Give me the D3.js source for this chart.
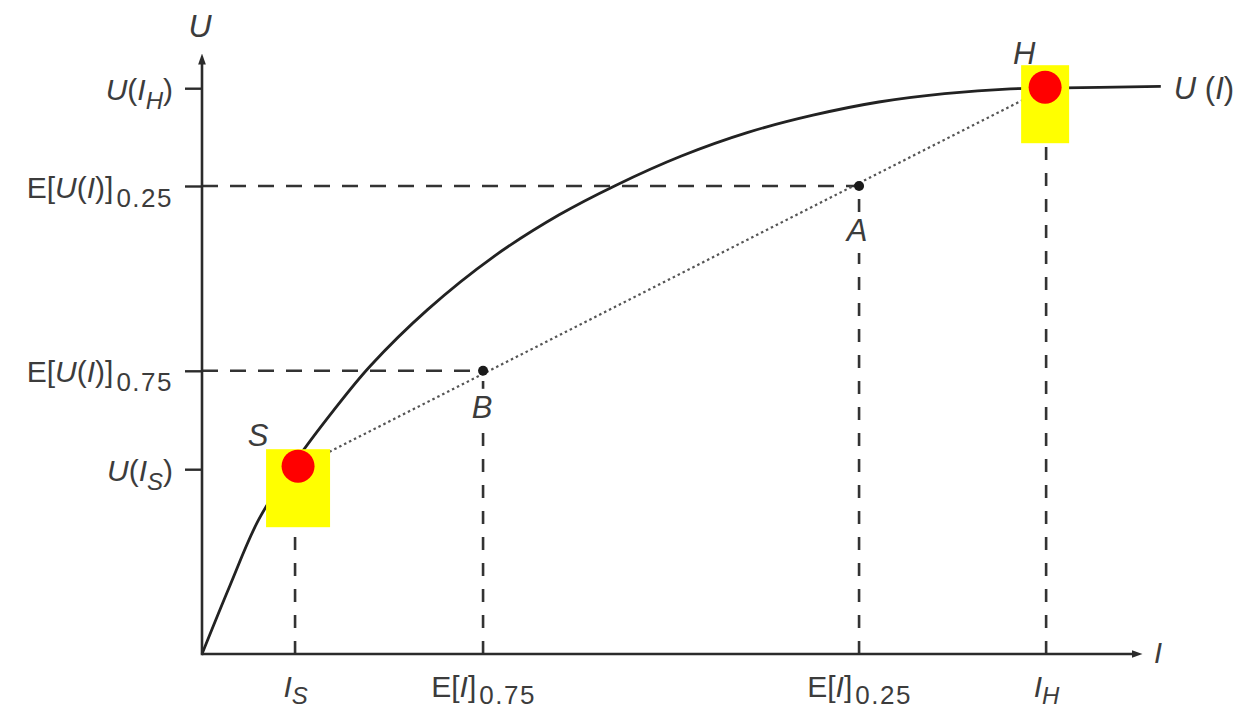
<!DOCTYPE html>
<html><head><meta charset="utf-8">
<script src="https://cdn.jsdelivr.net/npm/d3@7"></script>
<style>
html,body{margin:0;padding:0;background:#fff;}
svg text{font-family:"Liberation Sans",Arial,Helvetica,sans-serif;fill:#3c3c3c;}
</style>
</head><body>
<svg id="chart" width="1233" height="709"></svg>
<script>
// ---- data ----
const curveIncome  = [0, 3, 6, 9.9, 14, 17.9, 24, 31, 38, 44, 51, 58, 65, 72, 79, 86, 89.8, 102];
const curveUtility = [0, 11.5, 22.3, 32.0, 40.6, 48.0, 57.4, 66.2, 73.2, 78.1, 83.0, 86.9, 89.8, 92.0, 93.4, 94.2, 94.3, 94.6];

const pointNames   = ["S", "B", "A", "H"];
const pointIncome  = [9.9, 29.9, 69.9, 89.8];
const pointUtility = [30.8, 47.2, 78.0, 94.3];

const xTickValues = [9.9, 29.9, 69.9, 89.8];
const xTickLabels = [
  [["I","i"],["S","is"]],
  [["E[",""],["I","i"],["]",""],["0.75","sw"]],
  [["E[",""],["I","i"],["]",""],["0.25","sw"]],
  [["I","i"],["H","is"]]
];
const yTickValues = [94.3, 78.0, 47.2, 30.8];
const yTickLabels = [
  [["U","i"],["(",""],["I","i"],["H","is"],[")",""]],
  [["E[",""],["U","i"],["(",""],["I","i"],[")]",""],["0.25","sw"]],
  [["E[",""],["U","i"],["(",""],["I","i"],[")]",""],["0.75","sw"]],
  [["U","i"],["(",""],["I","i"],["S","is"],[")",""]]
];
const curveLabel = [["U","i"],[" (",""],["I","i"],[")",""]];
const xAxisLabel = "I";
const yAxisLabel = "U";

// ---- drawing ----
const svg = d3.select("#chart");
const x = d3.scaleLinear().domain([0, 100]).range([202, 1142]);
const y = d3.scaleLinear().domain([0, 100]).range([654, 54]);
const ink = "#2b2b2b";

function rich(sel, segs, subSize, shift) {
  let shifted = false;
  segs.forEach(([t, f]) => {
    const ts = sel.append("tspan").text(t);
    if (f.includes("i")) ts.attr("font-style", "italic");
    const sub = f.includes("s");
    if (sub) ts.attr("font-size", subSize);
    if (f.includes("w")) ts.attr("font-size", subSize + 2).attr("letter-spacing", 1.5).attr("dx", 3);
    if (sub && !shifted) { ts.attr("dy", shift); shifted = true; }
    else if (!sub && shifted) { ts.attr("dy", -shift); shifted = false; }
  });
}

const defs = svg.append("defs");
defs.append("marker").attr("id", "arrow")
  .attr("viewBox", "0 0 10 10").attr("refX", 5).attr("refY", 5)
  .attr("markerUnits", "userSpaceOnUse").attr("markerWidth", 11).attr("markerHeight", 11)
  .attr("orient", "auto")
  .append("path").attr("d", "M0,1.5L10,5L0,8.5z").attr("fill", ink);

// dashed guide lines
const pts = pointNames.map((n, i) => ({name: n, I: pointIncome[i], U: pointUtility[i]}));
const guides = svg.append("g").attr("stroke", "#333").attr("stroke-width", 2.6).attr("fill", "none");
pts.filter(p => p.name === "A" || p.name === "B").forEach(p => {
  guides.append("line").attr("x1", x(0)).attr("x2", x(p.I)).attr("y1", y(p.U)).attr("y2", y(p.U))
    .attr("stroke-dasharray", "16,12");
});
pts.forEach(p => {
  guides.append("line").attr("x1", x(p.I)).attr("x2", x(p.I)).attr("y1", y(0)).attr("y2", y(p.U))
    .attr("stroke-dasharray", "13,13");
});

// dotted chord S-H
const S = pts[0], H = pts[3];
svg.append("line").attr("x1", x(S.I)).attr("y1", y(S.U)).attr("x2", x(H.I)).attr("y2", y(H.U))
  .attr("stroke", "#555").attr("stroke-width", 2.2).attr("stroke-dasharray", "2.5,3");

// utility curve
const line = d3.line().x(d => x(d[0])).y(d => y(d[1])).curve(d3.curveCatmullRom.alpha(0.5));
svg.append("path").datum(d3.zip(curveIncome, curveUtility))
  .attr("d", line).attr("fill", "none").attr("stroke", "#222").attr("stroke-width", 2.8);

// axes
const yAxis = d3.axisLeft(y).tickValues(yTickValues).tickSize(17).tickSizeOuter(0).tickPadding(12).tickFormat(() => "");
const gy = svg.append("g").attr("transform", `translate(${x(0)},0)`).call(yAxis);
gy.select(".domain").remove();
gy.selectAll(".tick line").attr("stroke", ink).attr("stroke-width", 2.4);
gy.selectAll(".tick text").attr("dy", 11).attr("font-size", 30).attr("fill", "#3c3c3c")
  .each(function(d, i) { rich(d3.select(this), yTickLabels[i], 24, 9); });

const xAxis = d3.axisBottom(x).tickValues(xTickValues).tickSize(0).tickSizeOuter(0).tickPadding(0).tickFormat(() => "");
const gx = svg.append("g").attr("transform", `translate(0,${y(0)})`).call(xAxis);
gx.select(".domain").remove();
gx.selectAll(".tick text").attr("y", 43).attr("dy", 0).attr("font-size", 30).attr("fill", "#3c3c3c")
  .each(function(d, i) { rich(d3.select(this), xTickLabels[i], 24, 7); });

svg.append("line").attr("x1", x(0)).attr("y1", y(0)).attr("x2", x(100) - 5).attr("y2", y(0))
  .attr("stroke", ink).attr("stroke-width", 2.6).attr("marker-end", "url(#arrow)");
svg.append("line").attr("x1", x(0)).attr("y1", y(0) + 1.3).attr("x2", x(0)).attr("y2", y(100) + 5)
  .attr("stroke", ink).attr("stroke-width", 2.6).attr("marker-end", "url(#arrow)");

svg.append("text").attr("x", x(0) - 2).attr("y", 37).attr("text-anchor", "middle")
  .attr("font-size", 32).attr("font-style", "italic").text(yAxisLabel);
svg.append("text").attr("x", x(100) + 16).attr("y", y(0) + 9).attr("text-anchor", "middle")
  .attr("font-size", 29).attr("font-style", "italic").text(xAxisLabel);

// curve label
const lastI = curveIncome[curveIncome.length - 1], lastU = curveUtility[curveUtility.length - 1];
const cl = svg.append("text").attr("x", x(lastI) + 13).attr("y", y(lastU) + 13).attr("font-size", 31);
rich(cl, curveLabel, 24, 0);

// A, B points and labels
const labelOffsets = {S: [-37, -23], B: [-1, 47], A: [-2, 55], H: [-22, -24]};
pts.forEach(p => {
  const [dx, dy] = labelOffsets[p.name];
  const t = svg.append("text").attr("x", x(p.I) + dx).attr("y", y(p.U) + dy)
    .attr("text-anchor", "middle").attr("font-size", 31).attr("font-style", "italic").text(p.name);
  if (p.name === "A" || p.name === "B") {
    const bb = t.node().getBBox();
    svg.insert("rect", function() { return t.node(); })
      .attr("x", bb.x - 4).attr("y", bb.y - 1).attr("width", bb.width + 8).attr("height", bb.height + 6)
      .attr("fill", "#fff");
    svg.append("circle").attr("cx", x(p.I)).attr("cy", y(p.U)).attr("r", 5).attr("fill", "#1a1a1a");
  }
});

// highlight markers on S and H
const highlight = {S: {box: [-29, -20, 64, 78], dot: [3, -3]}, H: {box: [-25, -23, 48, 78], dot: [-1, -1]}};
[S, H].forEach(p => {
  const h = highlight[p.name];
  svg.append("rect").attr("x", x(p.I) + h.box[0]).attr("y", y(p.U) + h.box[1])
    .attr("width", h.box[2]).attr("height", h.box[3]).attr("fill", "#ffff00");
  svg.append("circle").attr("cx", x(p.I) + h.dot[0]).attr("cy", y(p.U) + h.dot[1]).attr("r", 16.5).attr("fill", "#ff0000");
});
</script>
</body></html>
